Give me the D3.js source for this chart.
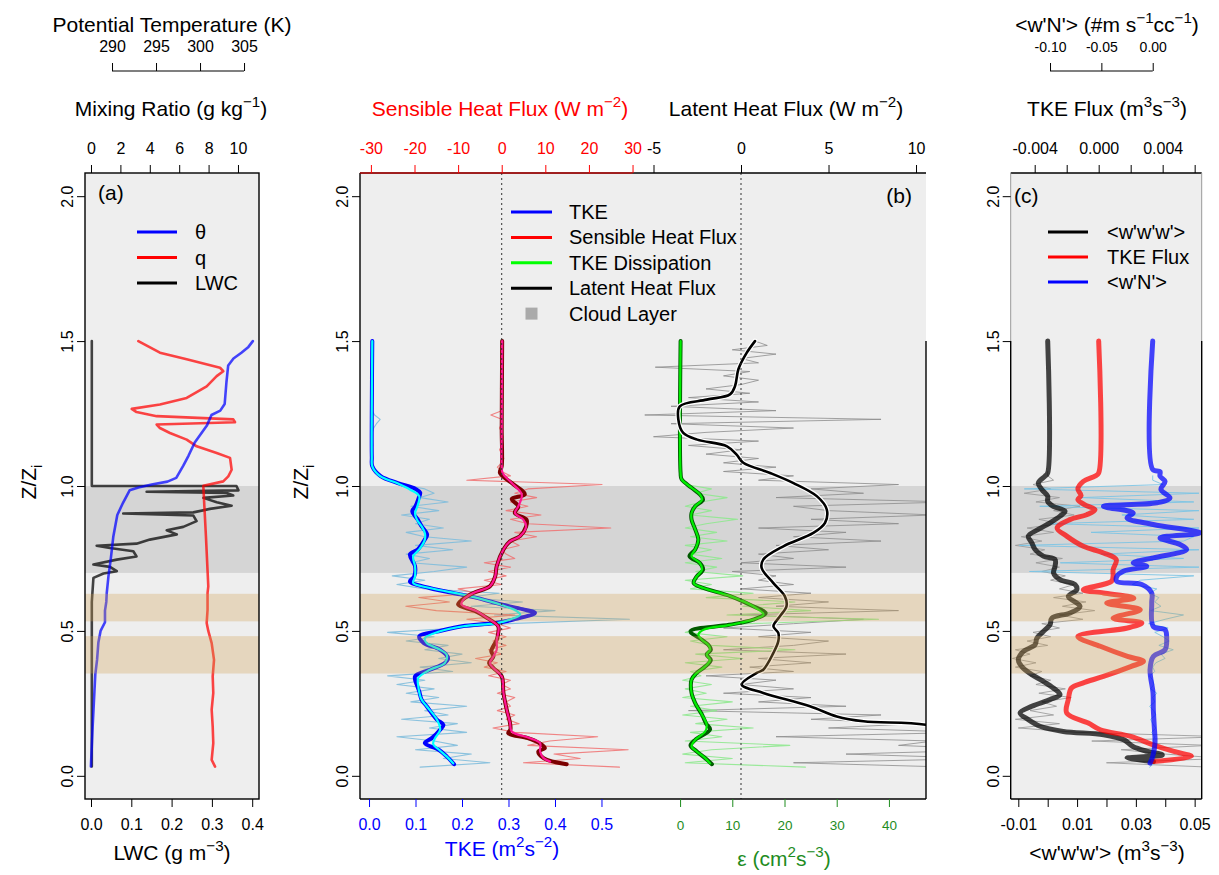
<!DOCTYPE html>
<html><head><meta charset="utf-8">
<script src="https://cdn.jsdelivr.net/npm/d3@7"></script>
<style>body{margin:0;background:#fff;}</style>
</head><body><svg id="c" width="1219" height="875"></svg>
<script>
// ---------------- DATA ----------------
// Panel (a)
const thetaZ = [0.032,0.10,0.17,0.23,0.29,0.35,0.40,0.46,0.50,0.53,0.57,0.60,0.63,0.69,0.746,0.826,0.90,0.942,0.985,0.995,1.005,1.015,1.028,1.07,1.105,1.15,1.21,1.245,1.26,1.283,1.358,1.416,1.44,1.46,1.48,1.50];
const thetaVal = [287.6,287.7,287.8,287.9,288.0,288.1,288.3,288.45,288.7,289.2,289.2,289.35,289.4,289.6,289.85,290.15,290.6,291.25,292.0,293.0,294.5,296.3,297.3,298.1,298.7,299.4,300.8,301.3,302.3,302.8,303.0,303.2,303.8,304.7,305.5,306.0];
const qZ = [0.032,0.055,0.113,0.17,0.228,0.286,0.343,0.40,0.458,0.50,0.527,0.573,0.631,0.654,0.826,1.001,1.016,1.033,1.056,1.097,1.114,1.137,1.16,1.183,1.20,1.212,1.22,1.23,1.241,1.255,1.266,1.281,1.304,1.344,1.379,1.396,1.408,1.437,1.46,1.50];
const qVal = [8.44,8.21,8.32,8.28,8.21,8.32,8.28,8.37,8.21,7.98,7.87,7.93,7.93,7.98,7.82,7.64,9.0,9.34,9.57,9.46,8.55,7.19,6.51,5.37,4.69,4.47,9.8,9.68,4.47,3.1,2.77,4.69,6.51,7.87,8.55,9.0,8.78,6.51,4.69,3.22];
const lwcZ = [0.032,0.30,0.60,0.683,0.698,0.706,0.721,0.729,0.746,0.757,0.775,0.786,0.794,0.801,0.815,0.833,0.847,0.859,0.879,0.898,0.905,0.909,0.921,0.932,0.944,0.959,0.967,0.976,0.980,0.985,1.0,1.0005,1.2,1.5];
const lwcVal = [0.002,0.002,0.002,0.006,0.031,0.064,0.047,0.006,0.064,0.113,0.105,0.047,0.014,0.113,0.146,0.213,0.188,0.229,0.262,0.254,0.08,0.254,0.295,0.349,0.312,0.279,0.353,0.337,0.138,0.366,0.361,0.002,0.002,0.002];

// Panel (b) smoothed profiles
const tkeFitZ = [0.043,0.067,0.088,0.11,0.13,0.159,0.194,0.24,0.263,0.309,0.338,0.366,0.389,0.418,0.435,0.458,0.475,0.499,0.516,0.527,0.539,0.556,0.568,0.591,0.614,0.625,0.648,0.665,0.688,0.723,0.758,0.781,0.815,0.838,0.861,0.884,0.907,0.93,0.965,0.988,1.01,1.034,1.068,1.1,1.27,1.5];
const tkeFit = [0.181,0.167,0.152,0.138,0.142,0.153,0.146,0.124,0.113,0.106,0.106,0.131,0.163,0.167,0.153,0.124,0.12,0.153,0.203,0.275,0.303,0.325,0.318,0.282,0.232,0.203,0.131,0.095,0.099,0.099,0.095,0.108,0.12,0.12,0.113,0.103,0.099,0.104,0.108,0.088,0.06,0.024,0.007,0.006,0.006,0.007];
const tkeSmZ = [0.04,0.067,0.09,0.113,0.13,0.159,0.176,0.194,0.24,0.263,0.291,0.309,0.343,0.366,0.389,0.406,0.435,0.458,0.481,0.499,0.516,0.527,0.539,0.562,0.575,0.591,0.614,0.625,0.648,0.671,0.688,0.723,0.764,0.781,0.815,0.832,0.861,0.884,0.913,0.93,0.955,0.977,0.99,1.01,1.034,1.068,1.1,1.27,1.5];
const tkeSm = [0.183,0.167,0.15,0.12,0.135,0.153,0.16,0.146,0.124,0.113,0.108,0.104,0.099,0.131,0.163,0.17,0.153,0.118,0.108,0.15,0.2,0.27,0.31,0.357,0.33,0.285,0.232,0.2,0.13,0.088,0.097,0.099,0.088,0.105,0.12,0.125,0.113,0.105,0.093,0.1,0.106,0.11,0.1,0.062,0.025,0.007,0.006,0.006,0.007];
const shfFitZ = [0.049,0.061,0.084,0.113,0.13,0.153,0.182,0.228,0.286,0.343,0.372,0.389,0.412,0.435,0.469,0.493,0.516,0.545,0.568,0.591,0.608,0.631,0.654,0.688,0.723,0.781,0.809,0.827,0.861,0.884,0.907,0.93,0.971,1.01,1.045,1.068,1.2,1.5];
const shfFit = [11.1,9.6,8.8,8.8,6.5,2.3,1.9,1.15,0.4,0,-1.9,-2.7,-1.9,-1.15,-1.15,-0.8,-0.8,-3.4,-5.7,-9.2,-8.8,-6.5,-2.7,-1.5,-1.15,0.4,1.9,4.2,5.6,4.95,3.05,3.8,4.6,2.3,0.2,0,0,0.1];
const shfSmZ = [0.04,0.061,0.084,0.096,0.113,0.13,0.147,0.16,0.182,0.228,0.286,0.343,0.372,0.389,0.412,0.43,0.469,0.493,0.516,0.545,0.568,0.591,0.608,0.631,0.654,0.688,0.723,0.781,0.809,0.827,0.861,0.884,0.907,0.93,0.955,0.971,1.01,1.045,1.068,1.2,1.5];
const shfSm = [14.9,9.6,8.4,9.9,8.6,6.0,1.5,2.0,1.9,1.15,0.4,0,-1.9,-2.9,-1.9,-2.4,-1.15,-0.8,-0.8,-3.4,-6.0,-10,-9,-6.5,-2.7,-1.5,-1.15,0.4,1.9,4.2,5.6,5.7,3.0,3.8,2.3,5.3,2.3,-0.4,0,0,0.1];
const epsFitZ = [0.043,0.061,0.084,0.101,0.124,0.153,0.176,0.211,0.251,0.286,0.332,0.355,0.377,0.40,0.418,0.435,0.452,0.469,0.487,0.504,0.521,0.539,0.556,0.585,0.62,0.648,0.665,0.688,0.711,0.734,0.758,0.781,0.815,0.85,0.884,0.907,0.93,0.953,0.971,0.994,1.023,1.045,1.5];
const epsFit = [5.75,4.8,3.2,2.2,2.9,4.8,5.1,4.2,2.9,2.2,2.2,3.2,4.8,5.75,5.1,5.75,5.4,4.2,3.5,4.5,9.6,14,16,14,9.6,4.5,2.6,3.2,4.2,3.8,2.2,2.9,3.5,2.9,2.2,2.2,2.9,4.2,3.8,2.2,0.3,0.1,0.1];
const epsSmZ = [0.04,0.061,0.084,0.105,0.124,0.16,0.18,0.211,0.251,0.286,0.332,0.355,0.377,0.40,0.418,0.435,0.452,0.469,0.499,0.521,0.539,0.562,0.585,0.62,0.648,0.665,0.688,0.711,0.734,0.758,0.781,0.815,0.85,0.884,0.907,0.93,0.953,0.971,0.994,1.023,1.045,1.5];
const epsSm = [6.1,4.8,3.2,2.0,2.9,5.75,5.0,4.2,2.9,2.2,2.2,3.2,4.8,5.9,5.1,5.9,5.4,4.2,2.0,9.4,14,16.4,14,9.6,4.5,2.6,3.2,4.4,3.8,1.8,2.9,3.5,2.9,2.2,2.2,2.9,4.4,3.8,2.2,0.3,0.1,0.1];
const lhfSmZ = [0.03,0.08,0.13,0.176,0.188,0.205,0.24,0.286,0.315,0.355,0.366,0.424,0.464,0.493,0.516,0.551,0.585,0.62,0.665,0.717,0.746,0.792,0.838,0.873,0.919,0.965,1.01,1.045,1.08,1.108,1.137,1.16,1.183,1.229,1.275,1.298,1.316,1.345,1.403,1.46,1.5];
const lhfSm = [20,17,13.5,10.55,7.0,5.47,3.94,1.27,0.04,0.9,1.27,1.85,2.13,2.13,1.85,2.23,2.6,2.5,1.85,1.18,1.27,2.42,4.13,4.8,4.9,4.33,3.0,1.66,0.13,-0.25,-0.8,-2.5,-3.3,-3.58,-3.5,-1.96,-0.63,-0.34,-0.15,0.33,0.8];

// Panel (b) raw profiles on the measurement grid zRaw (0.03 .. 1.50, step 0.015)
const tkeRaw = [0.11,0.26,0.16,0.22,0.10,0.19,0.14,0.06,0.21,0.13,
0.19,0.07,0.17,0.12,0.21,0.09,0.15,0.08,0.14,0.06,
0.12,0.04,0.18,0.11,0.22,0.15,0.20,0.12,0.17,0.08,
0.14,0.04,0.19,0.30,0.56,0.27,0.40,0.22,0.33,0.21,
0.28,0.12,0.06,0.12,0.05,0.14,0.21,0.09,0.13,0.08,
0.18,0.10,0.22,0.12,0.08,0.16,0.10,0.13,0.07,0.15,
0.09,0.17,0.11,0.14,0.12,0.07,0.04,0.02,0.012,0.008,
0.007,0.008,0.007,0.006,0.008,0.007,0.006,0.007,0.010,0.016,
0.024,0.012,0.007,0.006,0.007,0.006,0.007,0.006,0.006,0.007,
0.006,0.007,0.006,0.007,0.006,0.007,0.007,0.006,0.007];
const shfRaw = [27,5,18,12,29,6,11,22,3,-2,
4,1,3,-1,2,1,3,-1,2,0,
2,-3,1,-4,-1,-6,0,-3,1,-2,
1,-3,2,-1,-8,3,-15,-22,-12,-19,
-6,-10,0,-4,1,-3,2,-4,3,1,
0,4,2,8,3,25,6,2,9,1,
6,2,8,3,6,23,-8,2,0,-1,
0,0.5,0,-0.5,0,0,0.3,0,-0.5,0,
0,-2.5,0,0,0.3,0,0,-0.3,0,0,
0,0,0,0.2,0,0,0,0,0];
const epsRaw = [24,1,10,0.5,6,21,1,8,2,14,
3,9,0.5,7,2,10,0.5,5,1,6,
0.5,4,2,8,1,12,3,22,6,2,
9,1,4,13,38,9,25,12,22,5,
14,2,6,1,12,3,7,1,8,2,
6,1,9,2,7,1,5,11,2,6,
1,4,9,3,6,1];
const lhfRaw = [12,3,14,6,15,9,11,2,13,5,
10,4,8,-3,6,1,4,-1,3,0,
2,-2,3,0.5,4,1,6,-1,3,5,
1,4,-1,3,7,0,9,2,5,1,
4,0,3,1,2,-0.5,6,0,3,1,
5,2,8,3,6,1,9,4,11,5,
3,12,2,7,4,9,1,3,-1,2,
-1,1,-2,0,-3,1,-5,-2,3,-4,
8,-5.5,2,-4,1,-3,0.5,-2,0,1,
-1,0.5,-4.9,1,0,2,-0.5,1.5,0.8];

// Panel (c) smoothed profiles
const wwwZ = [0.049,0.061,0.072,0.084,0.101,0.124,0.142,0.153,0.171,0.194,0.217,0.24,0.263,0.28,0.303,0.326,0.349,0.377,0.40,0.429,0.452,0.475,0.498,0.521,0.544,0.562,0.585,0.619,0.642,0.66,0.677,0.70,0.723,0.746,0.758,0.781,0.804,0.827,0.85,0.873,0.896,0.913,0.93,0.947,0.965,0.988,1.01,1.034,1.045,1.5];
const www = [0.036,0.027,0.039,0.034,0.029,0.026,0.019,0.0053,-0.0026,-0.0066,-0.0094,-0.0054,0.0008,0.0042,0.0019,-0.0015,-0.0054,-0.0088,-0.01,-0.0083,-0.0043,-0.0037,-0.0015,0.0008,0.0014,0.0076,0.011,0.007,0.0099,0.0093,0.0042,0.002,0.0025,0.0025,-0.0015,-0.0043,-0.0054,-0.0066,-0.0032,0.0008,0.0042,0.0059,0.0019,0,0,-0.002,-0.0032,-0.0009,0,0];
const tkeFluxZ = [0.049,0.067,0.084,0.107,0.136,0.159,0.182,0.217,0.263,0.303,0.32,0.343,0.377,0.395,0.412,0.447,0.481,0.51,0.527,0.544,0.573,0.596,0.613,0.631,0.642,0.671,0.688,0.711,0.746,0.769,0.792,0.827,0.855,0.884,0.901,0.918,0.935,0.953,0.967,0.99,1.016,1.034,1.045,1.5];
const tkeFlux = [0.0034,0.0058,0.0047,0.0034,0.002,0.0001,-0.00065,-0.002,-0.0019,-0.0017,-0.001,0.0003,0.002,0.0028,0.0018,0.0001,-0.0013,0.0018,0.0027,0.0009,0.0026,0.0005,0.0022,0.0003,-0.00096,0.0008,0.0009,0.0009,0.0011,0.0003,-0.00096,-0.002,-0.0026,-0.0018,-0.00075,-0.00023,-0.00086,-0.0013,-0.0011,-0.0013,-0.00096,-0.00023,0,0];
const wnZ = [0.044,0.067,0.113,0.171,0.228,0.286,0.366,0.412,0.435,0.47,0.504,0.515,0.596,0.631,0.66,0.671,0.688,0.706,0.723,0.735,0.752,0.781,0.798,0.821,0.838,0.867,0.89,0.907,0.93,0.942,0.959,0.988,1.016,1.034,1.05,1.057,1.5];
const wn = [-0.0026,0,0.0022,0.0015,0.0006,0.0003,-0.0026,0.0006,0.012,0.0136,0.012,0.0006,-0.001,-0.001,-0.0107,-0.035,-0.035,-0.0286,-0.0058,-0.019,0.0006,0.033,0.0266,0.0071,0.046,0.0006,-0.025,-0.019,-0.048,0.0039,0.0168,0.008,0.012,0.0071,0.0071,0,0];
// Panel (c) raw profiles on zRaw
const wwwRaw = [0.055,0.02,0.06,0.04,0.025,0.055,0.015,0.06,0.01,-0.01,
0.004,-0.011,0.002,-0.006,0.003,-0.002,0.008,-0.003,0.006,-0.004,
0.001,-0.006,-0.002,-0.011,-0.004,-0.012,-0.006,-0.011,0.0,-0.007,
0.001,-0.005,0.004,-0.002,0.012,0.004,0.016,0.005,0.013,0.002,
0.012,0.004,0.009,0.001,0.006,-0.002,0.004,-0.004,0.005,-0.006,
-0.001,-0.011,-0.002,-0.009,0.002,-0.007,0.004,-0.003,0.009,0.002,
0.011,-0.004,0.004,-0.008,0.001,-0.005,0.002,0.0,0.0];
const wnRaw = [-0.003,0.002,0.0,0.003,-0.002,0.004,0.0,0.002,-0.001,0.003,
0.0,-0.002,0.003,0.001,-0.003,0.002,0.0,0.004,-0.002,0.001,
0.0,-0.003,0.002,0.0,0.003,0.012,0.008,0.02,0.006,0.016,
0.01,0.002,0.015,-0.004,0.012,0.03,-0.002,0.008,0.002,0.006,
-0.003,0.004,-0.02,-0.012,0.04,-0.12,0.045,-0.09,0.03,-0.05,
0.045,-0.13,0.03,0.04,-0.06,0.045,-0.1,0.04,-0.03,0.045,
-0.11,0.04,-0.07,0.045,-0.125,0.01,0.0,0.0];

// Bands (Z/Zi)
const cloudBand = [0.70, 1.00];
const tanBands = [[0.533, 0.628], [0.353, 0.482]];

// Tick values
const zTicks = [0, 0.5, 1.0, 1.5, 2.0];
const thetaTicks = [290, 295, 300, 305];
const qTicks = [0, 2, 4, 6, 8, 10];
const lwcTicks = [0, 0.1, 0.2, 0.3, 0.4];
const shfTicks = [-30, -20, -10, 0, 10, 20, 30];
const lhfTicks = [-5, 0, 5, 10];
const tkeTicks = [0, 0.1, 0.2, 0.3, 0.4, 0.5];
const epsTicks = [0, 10, 20, 30, 40];
const wnTicks = [-0.10, -0.05, 0.00];
const tfTicks = [-0.004, -0.002, 0, 0.002, 0.004, 0.006];
const wwwTicks = [-0.01, 0, 0.01, 0.02, 0.03, 0.04, 0.05];

// ---------------- DRAWING ----------------
const FONT = '"Liberation Sans", Arial, Helvetica, sans-serif';
const svg = d3.select("#c").attr("font-family", FONT);
const defs = svg.append("defs");
const TOP = 173, BOT = 799;
const Y = d3.scaleLinear().domain([-0.08, 2.08]).range([BOT, TOP]);
const zRaw = d3.range(99).map(i => +(0.03 + 0.015 * i).toFixed(3));
const zip = (zs, vs) => vs.map((v, i) => [zs[i], v]);

const PA = [85, 259], PB = [360, 926], PC = [1010.7, 1201.7];
// panel a scales
const lwcX = d3.scaleLinear().domain([-0.0149, 0.4169]).range(PA);
const qX = d3.scaleLinear().domain([-0.408, 11.43]).range(PA);
const thX = d3.scaleLinear().domain([286.93, 306.7]).range(PA);
// panel b scales
const tkeX = d3.scaleLinear().domain([-0.0194, 1.198]).range(PB);
const shfX = d3.scaleLinear().domain([-32.5, 97.3]).range(PB);
const epsX = d3.scaleLinear().domain([-61.3, 47.1]).range(PB);
const lhfX = d3.scaleLinear().domain([-21.77, 10.57]).range(PB);
// panel c scales
const wwwX = d3.scaleLinear().domain([-0.01259, 0.0524]).range(PC);
const tfX = d3.scaleLinear().domain([-0.0055, 0.00644]).range(PC);
const wnX = d3.scaleLinear().domain([-0.1383, 0.0477]).range(PC);

function panelBase(id, P) {
  defs.append("clipPath").attr("id", "clip-" + id).append("rect")
    .attr("x", P[0]).attr("y", TOP).attr("width", P[1] - P[0]).attr("height", BOT - TOP);
  svg.append("rect").attr("x", P[0]).attr("y", TOP).attr("width", P[1] - P[0]).attr("height", BOT - TOP).attr("fill", "#eeeeee");
  svg.append("rect").attr("x", P[0]).attr("y", Y(cloudBand[1])).attr("width", P[1] - P[0])
    .attr("height", Y(cloudBand[0]) - Y(cloudBand[1])).attr("fill", "#d5d5d5");
  return svg.append("g").attr("clip-path", `url(#clip-${id})`);
}
function tanOverlay(id, P) {
  const g = svg.append("g").attr("clip-path", `url(#clip-${id})`);
  tanBands.forEach(b => g.append("rect").attr("x", P[0]).attr("y", Y(b[1])).attr("width", P[1] - P[0])
    .attr("height", Y(b[0]) - Y(b[1])).attr("fill", "rgb(210,160,80)").attr("fill-opacity", 0.3));
}
function plot(g, data, xs, stroke, width, opacity, smooth) {
  const line = d3.line().defined(d => d[1] != null).x(d => xs(d[1])).y(d => Y(d[0]))
    .curve(smooth ? d3.curveCatmullRom.alpha(0.5) : d3.curveLinear);
  g.append("path").datum(data).attr("d", line).attr("fill", "none").attr("stroke", stroke)
    .attr("stroke-width", width).attr("stroke-opacity", opacity == null ? 1 : opacity)
    .attr("stroke-linejoin", "round").attr("stroke-linecap", "round");
}
function rich(x, y, parts, size, color, anchor, transform) {
  const t = svg.append("text").attr("font-size", size).attr("fill", color || "#000")
    .attr("text-anchor", anchor || "middle");
  if (transform) t.attr("transform", transform); else t.attr("x", x).attr("y", y);
  let shift = 0;
  parts.forEach(p => {
    const [s, kind] = Array.isArray(p) ? p : [p, ""];
    const target = kind === "sup" ? -0.42 * size : kind === "sub" ? 0.28 * size : 0;
    t.append("tspan").attr("dy", target - shift).attr("font-size", kind ? size * 0.72 : size).text(s);
    shift = target;
  });
  return t;
}
function xAxis(yPos, scale, ticks, orient, o) {
  const gen = (orient === "top" ? d3.axisTop : d3.axisBottom)(scale).tickValues(ticks)
    .tickSize(o.len || 8).tickPadding(o.pad).tickFormat(o.fmt);
  const g = svg.append("g").attr("transform", `translate(0,${yPos})`).call(gen)
    .attr("font-family", FONT).attr("font-size", o.fs || 16);
  g.select(".domain").remove();
  g.selectAll(".tick line").attr("stroke", o.color || "#000").attr("stroke-width", 1);
  g.selectAll(".tick text").attr("fill", o.tcolor || o.color || "#000");
  if (o.line) g.append("line").attr("x1", scale(ticks[0]) - (o.extL || 0)).attr("x2", scale(ticks[ticks.length - 1]))
    .attr("y1", 0).attr("y2", 0).attr("stroke", o.color || "#000").attr("stroke-width", 1.2);
  return g;
}
function yAxis(x0) {
  const g = svg.append("g").attr("transform", `translate(${x0},0)`)
    .call(d3.axisLeft(Y).tickValues(zTicks).tickSize(8).tickFormat(d => d.toFixed(1)))
    .attr("font-family", FONT).attr("font-size", 16);
  g.select(".domain").remove();
  g.selectAll(".tick line").attr("stroke", "#000");
  g.selectAll(".tick text").attr("x", null).attr("dy", null).attr("fill", "#000")
    .attr("text-anchor", "middle").attr("transform", "translate(-12,0) rotate(-90)");
}
function zLabel(x, y) {
  rich(0, 0, ["Z/Z", ["i", "sub"]], 21, "#000", "middle", `translate(${x},${y}) rotate(-90)`);
}

// ===== Panel (a) =====
const ga = panelBase("a", PA);
plot(ga, zip(lwcZ, lwcVal), lwcX, "#000", 2.6, 0.72);
plot(ga, zip(qZ, qVal), qX, "#ff0000", 2.6, 0.72);
plot(ga, zip(thetaZ, thetaVal), thX, "#0000ff", 2.6, 0.72);
tanOverlay("a", PA);
svg.append("rect").attr("x", PA[0]).attr("y", TOP).attr("width", PA[1] - PA[0]).attr("height", BOT - TOP)
  .attr("fill", "none").attr("stroke", "#000").attr("stroke-width", 1.4);

// ===== Panel (b) =====
const gb = panelBase("b", PB);
plot(gb, zip(zRaw, lhfRaw), lhfX, "#8c8c8c", 1, 0.8);
plot(gb, zip(zRaw, tkeRaw), tkeX, "#7fbcdc", 1.1, 0.9);
plot(gb, zip(zRaw, shfRaw), shfX, "#f07070", 1.1, 0.85);
plot(gb, zip(zRaw, epsRaw), epsX, "#8fe88f", 1.1, 0.9);
plot(gb, zip(tkeSmZ, tkeSm), tkeX, "#0000ff", 4, 1, true);
plot(gb, zip(tkeFitZ, tkeFit), tkeX, "#00ffff", 2.2, 1, true);
plot(gb, zip(shfSmZ, shfSm), shfX, "#7a0000", 4, 1, true);
plot(gb, zip(shfFitZ, shfFit), shfX, "#ff1493", 2.2, 1, true);
plot(gb, zip(epsSmZ, epsSm), epsX, "#005a00", 4, 1, true);
plot(gb, zip(epsFitZ, epsFit), epsX, "#00ee00", 2.2, 1, true);
plot(gb, zip(lhfSmZ, lhfSm), lhfX, "#ffffff", 5, 1, true);
plot(gb, zip(lhfSmZ, lhfSm), lhfX, "#000000", 2.6, 1, true);
tanOverlay("b", PB);
[shfX(0), lhfX(0)].forEach(x => svg.append("line").attr("x1", x).attr("x2", x).attr("y1", TOP).attr("y2", BOT)
  .attr("stroke", "#333").attr("stroke-width", 1).attr("stroke-dasharray", "2,3"));
// borders of panel b
[[PB[0], TOP, PB[1], TOP], [PB[0], TOP, PB[0], BOT], [PB[0], BOT, PB[1], BOT], [PB[1], Y(1.5), PB[1], BOT]]
  .forEach(l => svg.append("line").attr("x1", l[0]).attr("y1", l[1]).attr("x2", l[2]).attr("y2", l[3])
    .attr("stroke", "#000").attr("stroke-width", 1.4));

// ===== Panel (c) =====
const gc = panelBase("c", PC);
plot(gc, zip(zRaw, wwwRaw), wwwX, "#9a9a9a", 1, 0.85);
plot(gc, zip(zRaw, wnRaw), wnX, "#7cc4e4", 1, 0.9);
plot(gc, zip(wwwZ, www), wwwX, "#000000", 5, 0.72, true);
plot(gc, zip(tkeFluxZ, tkeFlux), tfX, "#ff0000", 5, 0.72, true);
plot(gc, zip(wnZ, wn), wnX, "#0000ff", 5, 0.72, true);
tanOverlay("c", PC);
[[PC[0], TOP, PC[1], TOP, "#000"], [PC[0], BOT, PC[1], BOT, "#000"],
 [PC[0], TOP, PC[0], Y(1.5), "#999"], [PC[1], TOP, PC[1], Y(1.5), "#999"],
 [PC[0], Y(1.5), PC[0], BOT, "#000"], [PC[1], Y(1.5), PC[1], BOT, "#000"]]
  .forEach(l => svg.append("line").attr("x1", l[0]).attr("y1", l[1]).attr("x2", l[2]).attr("y2", l[3])
    .attr("stroke", l[4]).attr("stroke-width", l[4] === "#000" ? 1.4 : 1));

// ===== Axes =====
yAxis(PA[0]); yAxis(PB[0]); yAxis(PC[0]);
zLabel(36, 482); zLabel(308, 482);

// panel a top axes
xAxis(71, thX, thetaTicks, "top", {pad: 11, fmt: d => d, line: true});
rich(172, 32, ["Potential Temperature (K)"], 21);
xAxis(TOP, qX, qTicks, "top", {pad: 11, fmt: d => d});
rich(171, 116, ["Mixing Ratio (g kg", ["\u22121", "sup"], ")"], 21);
xAxis(BOT, lwcX, lwcTicks, "bottom", {pad: 12, fmt: d => d.toFixed(1)});
rich(172, 860, ["LWC (g m", ["\u22123", "sup"], ")"], 21);

// panel b top axes
xAxis(TOP, shfX, shfTicks, "top", {pad: 11, fmt: d => d, color: "#ff0000", line: true, extL: 11});
xAxis(TOP, lhfX, lhfTicks, "top", {pad: 11, fmt: d => d});
rich(500, 116, ["Sensible Heat Flux (W m", ["\u22122", "sup"], ")"], 21, "#ff0000");
rich(786, 116, ["Latent Heat Flux (W m", ["\u22122", "sup"], ")"], 21, "#000");
// panel b bottom axes
xAxis(BOT, tkeX, tkeTicks, "bottom", {pad: 12, fmt: d => d.toFixed(1), color: "#0000ff"});
xAxis(BOT, epsX, epsTicks, "bottom", {pad: 13, fmt: d => d, color: "#1e8c1e", fs: 13.5});
rich(502, 856, ["TKE (m", ["2", "sup"], "s", ["\u22122", "sup"], ")"], 21, "#0000ff");
rich(784, 866, ["\u03b5 (cm", ["2", "sup"], "s", ["\u22123", "sup"], ")"], 21, "#1e8c1e");

// panel c axes
xAxis(71, wnX, wnTicks, "top", {pad: 11, fmt: d => d.toFixed(2), line: true, fs: 14});
rich(1107, 32, ["<w'N'> (#m s", ["\u22121", "sup"], "cc", ["\u22121", "sup"], ")"], 21);
xAxis(TOP, tfX, tfTicks, "top", {pad: 11, fmt: d => (Math.round(d * 1000) % 4 === 0 ? d.toFixed(3) : "")});
rich(1107, 116, ["TKE Flux (m", ["3", "sup"], "s", ["\u22123", "sup"], ")"], 21);
xAxis(BOT, wwwX, wwwTicks, "bottom", {pad: 12, fmt: d => (Math.round(d * 100) % 2 !== 0 ? d.toFixed(2) : "")});
rich(1107, 860, ["<w'w'w'> (m", ["3", "sup"], "s", ["\u22123", "sup"], ")"], 21);

// ===== Panel tags & legends =====
rich(98, 200, ["(a)"], 21, "#000", "start");
rich(912, 203, ["(b)"], 21, "#000", "end");
rich(1014, 203, ["(c)"], 21, "#000", "start");

function legend(x1, x2, tx, rows, y0, dy) {
  rows.forEach((r, i) => {
    const y = y0 + i * dy;
    if (r.square) svg.append("rect").attr("x", (x1 + x2) / 2 - 6).attr("y", y - 6).attr("width", 12).attr("height", 12).attr("fill", r.color);
    else svg.append("line").attr("x1", x1).attr("x2", x2).attr("y1", y).attr("y2", y).attr("stroke", r.color).attr("stroke-width", 3);
    svg.append("text").attr("x", tx).attr("y", y + 7).attr("font-size", 20).attr("fill", "#000").text(r.label);
  });
}
legend(137, 177, 195, [{label: "\u03b8", color: "#0000ff"}, {label: "q", color: "#ff0000"}, {label: "LWC", color: "#000"}], 232, 25.5);
legend(511, 552, 569, [{label: "TKE", color: "#0000ff"}, {label: "Sensible Heat Flux", color: "#ff0000"},
  {label: "TKE Dissipation", color: "#00ff00"}, {label: "Latent Heat Flux", color: "#000"},
  {label: "Cloud Layer", color: "#aaaaaa", square: true}], 212, 25.4);
legend(1048, 1088, 1107, [{label: "<w'w'w'>", color: "#000"}, {label: "TKE Flux", color: "#ff0000"}, {label: "<w'N'>", color: "#0000ff"}], 232, 25);
</script></body></html>
